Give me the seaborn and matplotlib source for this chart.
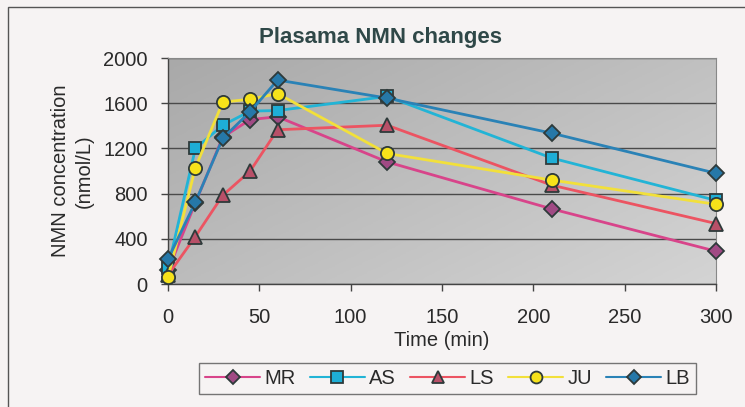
import numpy as np
import pandas as pd
import matplotlib
matplotlib.use("Agg")
import matplotlib.pyplot as plt
from matplotlib.patches import Rectangle
import seaborn as sns

# ---- data ----
time_min = [0, 15, 30, 45, 60, 120, 210, 300]
subjects = ["MR", "AS", "LS", "JU", "LB"]
mr = [120, 720, 1300, 1455, 1480, 1080, 665, 290]
as_ = [140, 1200, 1405, 1530, 1535, 1660, 1115, 740]
ls = [80, 420, 785, 1000, 1365, 1405, 875, 535]
ju = [60, 1030, 1610, 1635, 1685, 1155, 920, 705]
lb = [220, 725, 1290, 1525, 1805, 1645, 1335, 980]
y_ticks = [0, 400, 800, 1200, 1600, 2000]
x_ticks = [0, 50, 100, 150, 200, 250, 300]

series = {"MR": mr, "AS": as_, "LS": ls, "JU": ju, "LB": lb}
df = pd.DataFrame(
    [(s, t, v) for s in subjects for t, v in zip(time_min, series[s])],
    columns=["subject", "time", "value"],
)

styles = {
    "MR": dict(color="#d8448a", marker="D", mfc="#a04a84", ms=8),
    "AS": dict(color="#22b4d6", marker="s", mfc="#1eaed6", ms=9),
    "LS": dict(color="#ec5462", marker="^", mfc="#b85068", ms=9.5),
    "JU": dict(color="#f2e03a", marker="o", mfc="#f6e21a", ms=9.5),
    "LB": dict(color="#2a82b6", marker="D", mfc="#2678a8", ms=8),
}

sns.set_theme(style="white")
plt.rcParams["font.family"] = ["Liberation Sans", "DejaVu Sans"]

fig = plt.figure(figsize=(7.45, 4.07), dpi=100)
fig.patch.set_facecolor("#f6f3f3")
fig.patches.append(Rectangle((8 / 745, -0.2), 1.2, 1.2 - 7 / 407,
                             transform=fig.transFigure, fill=False,
                             edgecolor="#555555", linewidth=1.0))

ax = fig.add_axes([168 / 745, 1 - 284 / 407, 548 / 745, 226 / 407])

# gradient grey plot area (darker top-left, lighter bottom-right)
gx, gy = np.meshgrid(np.linspace(0, 1, 200), np.linspace(0, 1, 200))
grad = 0.55 * gx + 0.45 * gy
ax.imshow(grad, extent=[0, 1, 0, 1], transform=ax.transAxes, aspect="auto",
          cmap=matplotlib.colors.LinearSegmentedColormap.from_list(
              "g", ["#a9a9a9", "#d4d4d4"]), origin="upper", zorder=0)

for s in subjects:
    st = styles[s]
    sns.lineplot(data=df[df.subject == s], x="time", y="value", ax=ax,
                 color=st["color"], marker=st["marker"], markersize=st["ms"],
                 markerfacecolor=st["mfc"], markeredgecolor="#2e3a3a",
                 markeredgewidth=1.3, linewidth=2.0, label=s, zorder=3,
                 clip_on=False)

ax.set_xlim(0, 300)
ax.set_ylim(0, 2000)
ax.set_yticks(y_ticks)
ax.set_xticks(x_ticks)
ax.yaxis.grid(True, color="#4a4a4a", linewidth=1.0, zorder=1)
ax.set_axisbelow(True)
ax.tick_params(axis="both", which="both", direction="out", length=5,
               width=1, color="#444444", labelsize=14.5, labelcolor="#2a2a2a",
               left=True, bottom=True)
ax.tick_params(axis="x", pad=12.5)
ax.tick_params(axis="y", pad=9.5)
for side in ["left", "bottom"]:
    ax.spines[side].set_color("#444444")
    ax.spines[side].set_linewidth(1.0)
for side in ["top", "right"]:
    ax.spines[side].set_color("#888888")
    ax.spines[side].set_linewidth(0.8)

ax.set_xlabel("Time (min)", fontsize=14.5, color="#2a2a2a", labelpad=3)
ax.set_ylabel("NMN concentration\n(nmol/L)", fontsize=14.5, color="#2a2a2a",
              labelpad=7, linespacing=1.3)
fig.text(380 / 745, 1 - 43 / 407, "Plasama NMN changes", fontsize=16,
         fontweight="bold", color="#2f4848", ha="center", va="baseline")

leg = ax.legend(loc="upper center", bbox_to_anchor=(447.5 / 745, 1 - 363 / 407),
                bbox_transform=fig.transFigure, borderaxespad=0, ncol=5,
                frameon=True, fancybox=False, fontsize=14.5, handlelength=2.75,
                columnspacing=0.7, handletextpad=0.2, borderpad=0.3,
                markerscale=0.9)
leg.get_frame().set_edgecolor("#555555")
leg.get_frame().set_facecolor("#f6f3f3")
leg.get_frame().set_linewidth(1.0)
for line in leg.get_lines():
    line.set_linewidth(1.5)
for t in leg.get_texts():
    t.set_color("#2a2a2a")

fig.savefig("out.png", dpi=100, facecolor=fig.get_facecolor())
